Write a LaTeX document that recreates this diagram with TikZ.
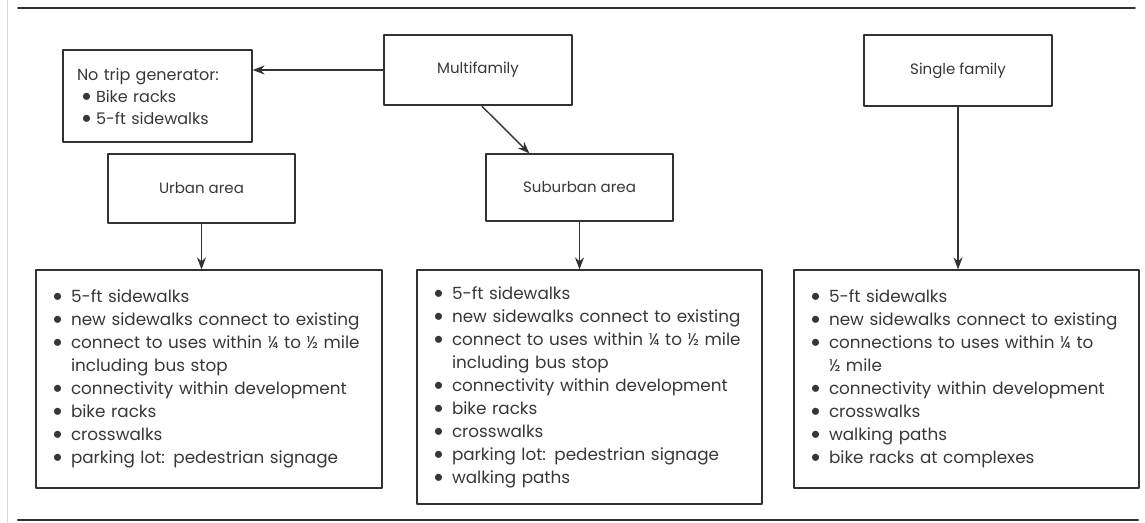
\documentclass[tikz,border=0pt]{standalone}
\usepackage{fontspec}
\setmainfont{Poppins}
\newfontfamily\bulfont{Lato}
\usetikzlibrary{arrows.meta}
\definecolor{inkgray}{RGB}{50,50,50}
\definecolor{textgray}{RGB}{55,55,55}
\definecolor{edgegray}{RGB}{215,215,215}
\newcommand{\bul}[1][19pt]{\makebox[#1][l]{\bulfont\fontsize{19}{19}\selectfont\textbullet}}
\newcommand{\cont}{\hspace*{19pt}}
\tikzset{
  plainbox/.style={draw=inkgray, line width=1.2pt, text=textgray, align=center, inner sep=0pt,
    font=\fontsize{15}{22}\selectfont},
  thickbox/.style={plainbox, line width=2.6pt},
  listbox/.style={plainbox, align=left, inner xsep=16pt, font=\fontsize{16.8}{23}\selectfont},
  flow/.style={draw=inkgray, line width=1.4pt, -{Stealth[length=12pt,width=9pt]}}
}
\begin{document}
\begin{tikzpicture}[x=1pt, y=-1pt, line cap=round, line join=round]
  \useasboundingbox (0,0) rectangle (1145,522);
  % page rules
  \draw[edgegray, line width=1pt] (7,0) -- (7,522);
  \draw[inkgray, line width=1.8pt] (18,8) -- (1135,8);
  \draw[inkgray, line width=2.6pt] (18,520) -- (1138,520);
  % top row
  \node[thickbox, minimum width=188pt, minimum height=70pt] (multi) at (478,70) {Multifamily};
  \node[thickbox, minimum width=188pt, minimum height=71pt] (single) at (958,70.5) {Single family};
  \node[plainbox, align=left, inner xsep=14pt, text width=161pt, minimum height=92pt,
    font=\fontsize{16}{22}\selectfont] (notrip) at (157.5,96)
    {No trip generator:\\ \hspace*{4pt}\bul[15pt]Bike racks\\ \hspace*{4pt}\bul[15pt]5-ft sidewalks};
  % areas
  \node[plainbox, minimum width=187pt, minimum height=69pt] (urban) at (201.5,188.5) {Urban area};
  \node[plainbox, minimum width=187pt, minimum height=67pt] (suburb) at (579.5,187.5) {Suburban area};
  % lists
  \node[listbox, text width=314pt, minimum height=218pt] (ulist) at (209,379)
    {\bul 5-ft sidewalks\\
     \bul new sidewalks connect to existing\\
     \bul connect to uses within ¼ to ½ mile\\
     \cont including bus stop\\
     \bul connectivity within development\\
     \bul bike racks\\
     \bul crosswalks\\
     \bul parking lot: pedestrian signage};
  \node[listbox, text width=313pt, minimum height=234pt] (slist) at (589.5,387)
    {\bul 5-ft sidewalks\\
     \bul new sidewalks connect to existing\\
     \bul connect to uses within ¼ to ½ mile\\
     \cont including bus stop\\
     \bul connectivity within development\\
     \bul bike racks\\
     \bul crosswalks\\
     \bul parking lot: pedestrian signage\\
     \bul walking paths};
  \node[listbox, text width=313pt, minimum height=218pt] (flist) at (966.5,379)
    {\bul 5-ft sidewalks\\
     \bul new sidewalks connect to existing\\
     \bul connections to uses within ¼ to\\
     \cont ½ mile\\
     \bul connectivity within development\\
     \bul crosswalks\\
     \bul walking paths\\
     \bul bike racks at complexes};
  % arrows
  \draw[flow] (multi.west) -- (multi.west -| notrip.east);
  \draw[flow] ([xshift=4pt]multi.south) -- ([xshift=44pt]suburb.north west);
  \draw[flow] (urban.south) -- (urban.south |- ulist.north);
  \draw[flow] (suburb.south) -- (suburb.south |- slist.north);
  \draw[flow] (single.south) -- (single.south |- flist.north);
\end{tikzpicture}
\end{document}
